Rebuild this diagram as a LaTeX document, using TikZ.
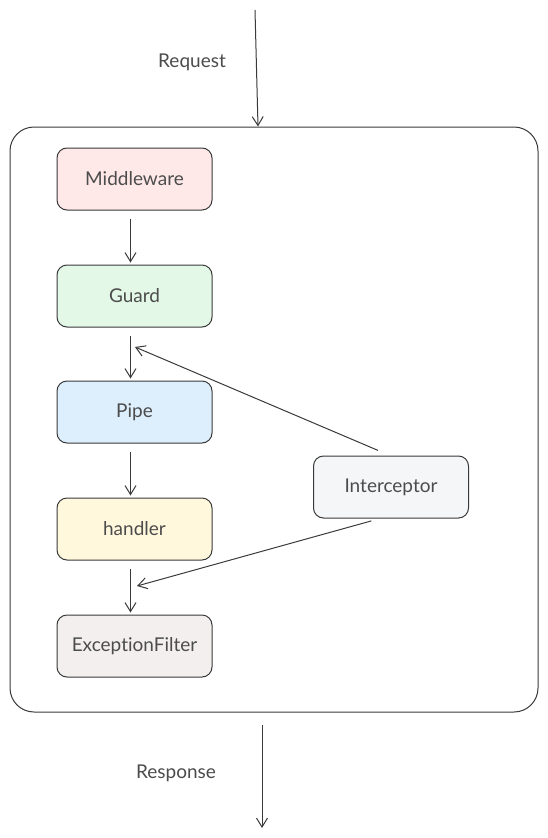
\documentclass[tikz,border=0pt]{standalone}
\usepackage{fontspec}
\setmainfont{Lato}[Ligatures={NoCommon}]
\usepackage{tikz}
\usetikzlibrary{calc}
\usetikzlibrary{arrows.meta,shapes,positioning}

\definecolor{inkgrey}{HTML}{3A3A3A}
\definecolor{mwfill}{HTML}{FFE8E8}
\definecolor{gdfill}{HTML}{E3F8E6}
\definecolor{ppfill}{HTML}{DDEFFD}
\definecolor{hdfill}{HTML}{FFF8DC}
\definecolor{effill}{HTML}{F3EFEF}
\definecolor{icfill}{HTML}{F5F6F7}

\begin{document}
\begin{tikzpicture}[
			x=1pt, y=-1pt,
			stage/.style = {draw=inkgrey, line width=1pt, rectangle, rounded corners=10pt,
				minimum width=155pt, minimum height=62pt, align=center,
				font=\fontsize{19pt}{22pt}\selectfont, text=black!70},
			lbl/.style  = {font=\fontsize{19pt}{22pt}\selectfont, text=black!70},
			flow/.style = {->, draw=inkgrey, line width=1pt},
			>={Straight Barb[length=9pt,width=11pt]}]
			
			\useasboundingbox[fill=white] (0,0) rectangle (547,838);
			
			% the outer frame
			\node[draw=inkgrey, line width=1pt, rounded corners=24pt, minimum width=528pt,
				minimum height=585pt] (box) at (274,419.5) {};
			
			% the stages, one under the other
			\node[stage, fill=mwfill] (mw) at (134.5,179) {Middleware};
			\node[stage, fill=gdfill, below=54pt of mw] (gd) {Guard};
			\node[stage, fill=ppfill, below=53pt of gd] (pp) {Pipe};
			\node[stage, fill=hdfill, below=54pt of pp] (hd) {handler};
			\node[stage, fill=effill, below=54pt of hd] (ef) {ExceptionFilter};
			\node[stage, fill=icfill] (ic) at (391,487) {Interceptor};
			
			% request and response
			\coordinate (req) at (255,10);
			\coordinate (res) at (262,828);
			\node[lbl] (reqtxt) at (192,62) {Request};
			\node[lbl] (restxt) at (176,773) {Response};
			\draw[flow] (req) -- ([xshift=-16pt]box.north);
			\draw[flow, shorten <=12pt] ([xshift=-12pt]box.south) -- (res);
			
			% arrows down the chain
			\foreach \a/\b in {mw/gd, gd/pp, pp/hd, hd/ef}
			\draw[flow, shorten <=8pt, shorten >=2pt] ([xshift=-4pt]\a.south) -- ([xshift=-4pt]\b.north);
			
			% the interceptor wraps the chain
			\coordinate (in1) at (135,347);
			\coordinate (in2) at (137,586);
			\draw[flow, shorten <=13pt] ([xshift=-1pt]ic.north) -- (in1);
			\draw[flow, shorten <=9pt] ([xshift=-11pt]ic.south) -- (in2);
		\end{tikzpicture}
\end{document}
